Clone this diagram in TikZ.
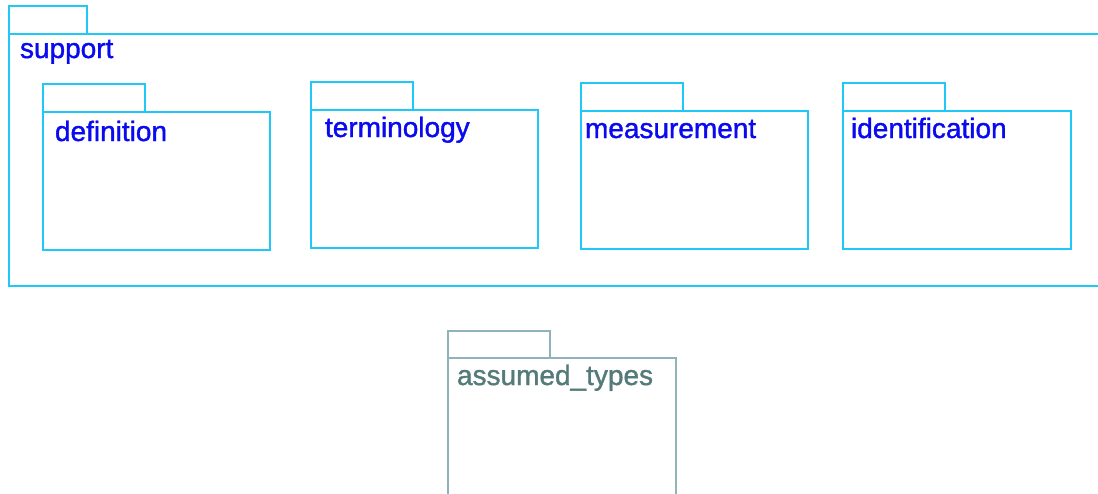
\documentclass[tikz,border=0pt]{standalone}
\usepackage{fontspec}
\setmainfont{Liberation Sans}
\newfontfamily\lblfont[FakeBold=1.3]{Liberation Sans}
\definecolor{pkgline}{HTML}{1EC8F8}
\definecolor{pkgtext}{HTML}{0A0AF0}
\definecolor{grayline}{HTML}{8FB3B8}
\definecolor{graytext}{HTML}{557A7A}
\begin{document}
\begin{tikzpicture}[x=1pt,y=-1pt,
  box/.style={draw=pkgline,line width=2.3pt,inner sep=0pt,outer sep=0pt,anchor=north west,rectangle},
  graybox/.style={box,draw=grayline},
  lbl/.style={inner sep=0pt,outer sep=0pt,anchor=base west,text=pkgtext,font=\lblfont\fontsize{28}{33}\selectfont},
  graylbl/.style={lbl,text=graytext}]
\useasboundingbox (0,0) rectangle (1098,493);
\clip (0,0) rectangle (1098,493);
% support package
\node[box,minimum width=78pt,minimum height=28pt] (supporttab) at (9,6) {};
\node[box,minimum width=1110pt,minimum height=252pt] (supportbody) at (9,34) {};
\node[lbl] (supportlbl) at (20,58) {support};
% definition
\node[box,minimum width=102pt,minimum height=28pt] (deftab) at (43,84) {};
\node[box,minimum width=227pt,minimum height=138pt] (defbody) at (43,112) {};
\node[lbl] (deflbl) at (55,141) {definition};
% terminology
\node[box,minimum width=102pt,minimum height=28pt] (termtab) at (311,82) {};
\node[box,minimum width=227pt,minimum height=138pt] (termbody) at (311,110) {};
\node[lbl] (termlbl) at (325,137) {terminology};
% measurement
\node[box,minimum width=102pt,minimum height=28pt] (meastab) at (581,83) {};
\node[box,minimum width=227pt,minimum height=138pt] (measbody) at (581,111) {};
\node[lbl] (measlbl) at (585,138) {measurement};
% identification
\node[box,minimum width=102pt,minimum height=28pt] (idtab) at (843,83) {};
\node[box,minimum width=228pt,minimum height=138pt] (idbody) at (843,111) {};
\node[lbl] (idlbl) at (851,138) {identification};
% assumed_types
\node[graybox,minimum width=102pt,minimum height=27pt] (astab) at (448,331) {};
\node[graybox,minimum width=228pt,minimum height=160pt] (asbody) at (448,358) {};
\node[graylbl] (aslbl) at (457,385) {assumed\_types};
\end{tikzpicture}
\end{document}
